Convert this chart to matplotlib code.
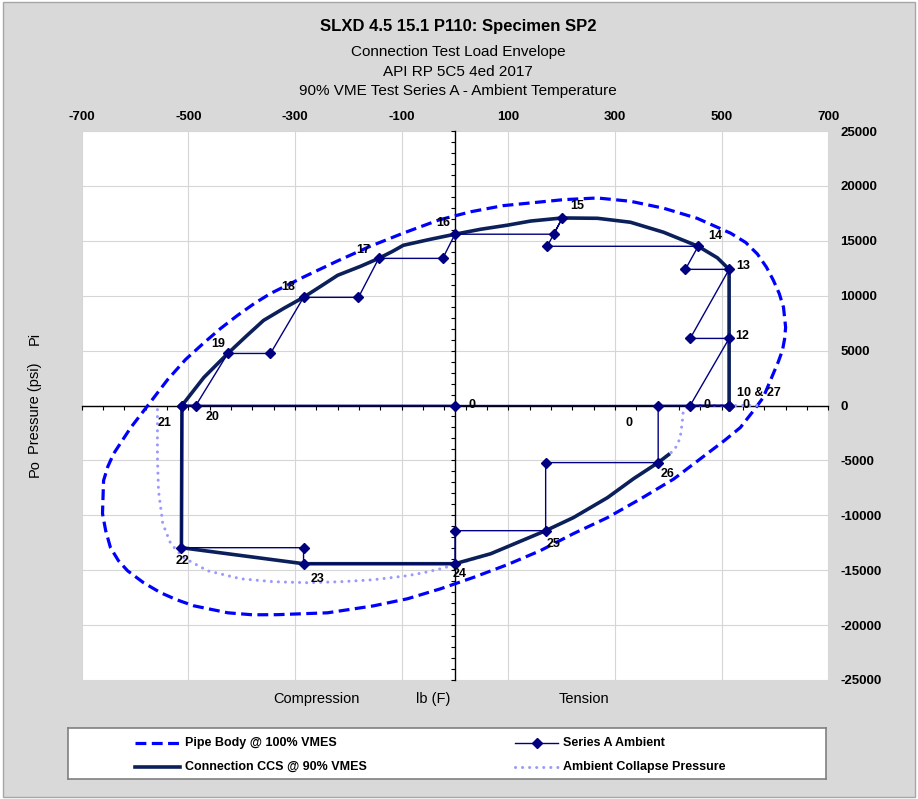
import matplotlib.pyplot as plt
from matplotlib.patches import Rectangle
import numpy as np

plt.rcParams['font.family'] = ['Liberation Sans', 'DejaVu Sans']

W, H = 918, 799

# Pipe body @ 100% VMES (axial kips, pressure psi)
pipe_x = [-30, 30, 90, 142, 204, 267, 329, 391, 454, 517, 545, 567, 584, 597,
          608, 616, 620, 618, 614, 606, 597, 578, 560, 535, 505, 473, 410,
          348, 286, 222, 160, 98, 35, -27, -89, -153, -239, -333, -380, -426,
          -490, -522, -552, -584, -614, -631, -646, -655, -661, -660, -659,
          -651, -640, -608, -576, -539, -505, -471, -440, -408, -376, -346,
          -284, -221, -159, -97, -30]
pipe_y = [16900, 17650, 18200, 18450, 18750, 18900, 18600, 17970, 17050, 15690,
          14850, 13800, 12600, 11400, 10200, 8940, 7110, 6050, 5020, 3950, 2920,
          730, -460, -2010, -3200, -4380, -6700, -8500, -10210, -11670, -13220,
          -14500, -15650, -16690, -17600, -18250, -18880, -19050, -19060,
          -18880, -18240, -17690, -17050, -16140, -15050, -14140, -12950,
          -11400, -9850, -8300, -6840, -5560, -4380, -2010, 0, 2350, 4200,
          5700, 7000, 8200, 9300, 10200, 11700, 13150, 14500, 15700, 16900]

# Connection CCS @ 90% VMES
ccs_x = [514, 514, 514, 492, 456, 391, 329, 267, 201, 142, 98, 48, 0, -46,
         -97, -117, -143, -177, -220, -252, -284, -321, -359, -392, -426,
         -471, -512, -513, -284, 0, 67, 170, 222, 286, 335, 381, 403]
ccs_y = [0, 6110, 12400, 13450, 14500, 15780, 16690, 17050, 17080, 16800,
         16420, 16050, 15600, 15140, 14590, 14040, 13400, 12680, 11860, 10850,
         9850, 8850, 7750, 6290, 4740, 2550, 0, -12950, -14410, -14410, -13500,
         -11400, -10210, -8390, -6660, -5200, -4380]

# Series A ambient load path
ser_x = [0, -512, 514, 441, 514, 441, 514, 432, 456, 173, 201, 185, 0, -23,
         -143, -181, -284, -346, -426, -486, -512, -513, -284, -284, 0, 0,
         170, 170, 381, 381, 514]
ser_y = [0, 0, 0, 0, 6110, 6110, 12400, 12400, 14500, 14500, 17050, 15600,
         15600, 13400, 13400, 9850, 9850, 4740, 4740, 0, 0, -12950, -12950,
         -14410, -14410, -11400, -11400, -5200, -5200, 0, 0]

# Ambient collapse pressure
col_x = [566, 441, 428, 426, 422, 412, 403, 381, 335, 286, 222, 170, 67, 0,
         -27, -59, -89, -153, -215, -276, -340, -402, -464, -509, -533, -548,
         -556, -558, -558, -558]
col_y = [0, 0, -500, -1600, -3000, -4000, -4380, -5200, -6660, -8390, -10210,
         -11400, -13500, -14500, -14870, -15230, -15500, -15870, -16050,
         -16140, -16050, -15780, -15050, -13860, -12590, -10760, -7750, -4740,
         -1640, 0]

# load point labels
pt_labels = ['10 & 27', '12', '13', '14', '15', '16', '17', '18', '19', '20',
             '21', '22', '23', '24', '25', '26', '0', '0', '0', '0']
pt_x = [514, 514, 514, 456, 201, 0, -143, -284, -426, -486, -512, -513, -284,
        0, 170, 381, 0, 441, 514, 381]
pt_y = [0, 6110, 12400, 14500, 17050, 15600, 13400, 9850, 4740, 0, 0, -12950,
        -14410, -14410, -11400, -5200, 0, 0, 0, 0]
# label offsets in pixels (right, up)
pt_off = [(30, 12), (13, 2), (14, 3), (17, 10), (15, 12), (-12, 11), (-16, 8),
          (-15, 10), (-10, 9), (17, -12), (-17, -17), (1, -13), (14, -15),
          (5, -10), (8, -13), (9, -11), (17, 0), (17, 0), (17, 0), (-29, -18)]

x_ticks = np.arange(-700, 701, 200)
y_ticks = np.arange(-25000, 25001, 5000)


def fx(px):
    return px / W


def fy(py):
    return 1 - py / H


fig = plt.figure(figsize=(W / 100, H / 100), dpi=100)
fig.patch.set_facecolor('white')
fig.patches.append(Rectangle((fx(3), fy(797)), (915 - 3) / W, (797 - 2) / H,
                             transform=fig.transFigure, facecolor='#D9D9D9',
                             edgecolor='#A6A6A6', lw=1, zorder=-10))

ax = fig.add_axes([fx(81.7), fy(680), (828.3 - 81.7) / W, (680 - 131) / H])
ax.set_facecolor('white')
ax.set_xlim(-700, 700)
ax.set_ylim(-25000, 25000)
ax.set_xticks(x_ticks)
ax.set_xticks(np.arange(-700, 701, 40), minor=True)
ax.set_yticks(y_ticks)
ax.set_yticks(np.arange(-25000, 25001, 1000), minor=True)
ax.grid(True, which='major', color='#D6D6D6', lw=0.8)
ax.set_axisbelow(True)
for s in ['top', 'right']:
    ax.spines[s].set_visible(False)
ax.spines['left'].set_position(('data', 0))
ax.spines['bottom'].set_position(('data', 0))
for s in ['left', 'bottom']:
    ax.spines[s].set_color('black')
    ax.spines[s].set_linewidth(1.0)
ax.tick_params(which='both', direction='out', length=3.2, width=0.8,
               labelleft=False, labelbottom=False)

# curves
ax.plot(pipe_x, pipe_y, color='#0000FF', lw=2.3, ls=(0, (3.4, 1.7)),
        solid_joinstyle='round', zorder=3)
ax.plot(col_x, col_y, color='#9999FF', lw=2.2, ls=(0, (0.01, 2.3)),
        dash_capstyle='round', zorder=3.5)
ax.plot(ccs_x, ccs_y, color='#0B1F5A', lw=2.6, solid_joinstyle='round',
        solid_capstyle='butt', zorder=4)
ax.plot(ser_x, ser_y, color='#000080', lw=1.0, marker='D', ms=5,
        zorder=5)

for lab, x, y, (dx, dy) in zip(pt_labels, pt_x, pt_y, pt_off):
    ax.annotate(lab, (x, y), xytext=(dx * 0.72, dy * 0.72),
                textcoords='offset points', ha='center', va='center',
                fontsize=9, fontweight='bold', zorder=6)

# tick labels on top and right
secx = ax.secondary_xaxis('top')
secx.set_xticks(x_ticks, [str(v) for v in x_ticks], fontweight='bold',
                fontsize=9.5)
secx.tick_params(length=0, pad=6)
secx.spines['top'].set_visible(False)
secy = ax.secondary_yaxis('right')
secy.set_yticks(y_ticks, [str(v) for v in y_ticks], fontweight='bold',
                fontsize=9.5)
secy.tick_params(length=0, pad=8.5)
secy.spines['right'].set_visible(False)

# titles
fig.text(fx(458), fy(26), 'SLXD 4.5 15.1 P110: Specimen SP2', ha='center',
         va='center', fontsize=12, fontweight='bold')
for txt, yy in [('Connection Test Load Envelope', 52),
                ('API RP 5C5 4ed 2017', 72),
                ('90% VME Test Series A - Ambient Temperature', 91)]:
    fig.text(fx(458), fy(yy), txt, ha='center', va='center', fontsize=11)

# axis captions
for txt, xx in [('Compression', 316), ('lb (F)', 433), ('Tension', 584)]:
    fig.text(fx(xx), fy(699), txt, ha='center', va='center', fontsize=10.5)
for txt, yy in [('Pi', 338), ('Pressure (psi)', 408), ('Po', 468)]:
    fig.text(fx(35), fy(yy), txt, ha='center', va='center', fontsize=10.5,
             rotation=90)

# legend box
lax = fig.add_axes([fx(68), fy(779), (826 - 68) / W, (779 - 728) / H])
lax.set_xlim(68, 826)
lax.set_ylim(779, 728)
lax.set_xticks([])
lax.set_yticks([])
for s in lax.spines.values():
    s.set_color('#808080')
    s.set_linewidth(1.2)
lax.plot([135, 180], [743, 743], color='#0000FF', lw=2.3, ls=(0, (3.4, 1.7)))
lax.plot([135, 180], [767, 767], color='#0B1F5A', lw=2.6)
lax.plot([515, 558], [743, 743], color='#000080', lw=1.0)
lax.plot([536.5], [743], color='#000080', marker='D', ms=5)
lax.plot([515, 558], [767, 767], color='#9999FF', lw=2.2, ls=(0, (0.01, 2.3)),
         dash_capstyle='round')
for txt, xx, yy in [('Pipe Body @ 100% VMES', 185, 743),
                    ('Connection CCS @ 90% VMES', 185, 767),
                    ('Series A Ambient', 563, 743),
                    ('Ambient Collapse Pressure', 563, 767)]:
    lax.text(xx, yy, txt, ha='left', va='center', fontsize=9,
             fontweight='bold')

fig.savefig('out.png', dpi=100, facecolor=fig.get_facecolor())
